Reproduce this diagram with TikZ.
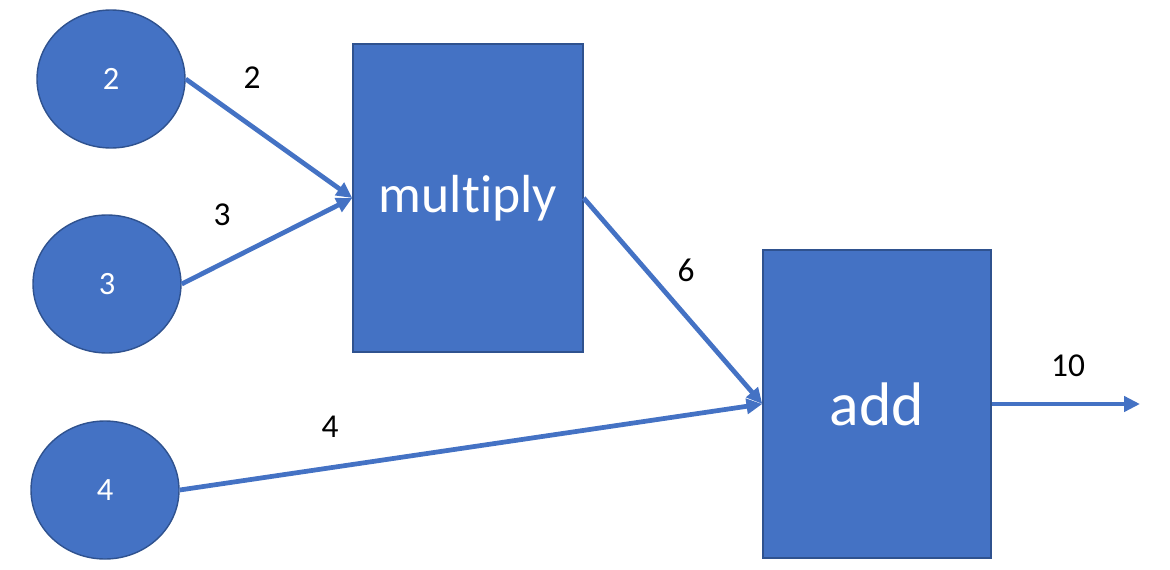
\documentclass[tikz,border=0pt]{standalone}
\usepackage{fontspec}
\setmainfont[Ligatures=NoCommon]{Carlito}
\usepackage{xcolor}
\usepackage{tikz}
\usetikzlibrary{shapes.geometric,arrows.meta}
\definecolor{opfill}{HTML}{4472C4}
\definecolor{opline}{HTML}{2F528F}

\begin{document}
\begin{tikzpicture}
\tikzset{
  val/.style={ellipse, draw=opline, fill=opfill, line width=0.8pt, minimum width=2.96cm, minimum height=2.76cm, inner sep=0pt, text=white, font=\fontsize{18.5}{21}\selectfont},
  opbox/.style={draw=opline, fill=opfill, line width=0.8pt, minimum width=4.6cm, minimum height=6.16cm, inner sep=0pt, text=white},
  flow/.style={draw=opfill, line width=2.7pt, -{Triangle[length=9pt,width=8.5pt]}},
  lbl/.style={font=\fontsize{19}{22}\selectfont, text=black},
}
\useasboundingbox (0,0) rectangle (23.4,-11.4);
\node[val] (two) at (2.22,-1.58) {2};
\node[val] (three) at (2.14,-5.68) {3};
\node[val] (four) at (2.10,-9.80) {4};
\node[opbox, font=\fontsize{30.5}{34}\selectfont] (mul) at (9.36,-3.96) {multiply};
\node[opbox, minimum width=4.56cm, font=\fontsize{35}{40}\selectfont] (add) at (17.54,-8.08) {add};
\coordinate (out) at (22.8,-8.08);
\draw[flow] (two.east) -- (mul.west);
\draw[flow] (three.east) -- (mul.west);
\draw[flow] (mul.east) -- (add.west);
\draw[flow] (four.east) -- (add.west);
\draw[flow] (add.east) -- (out);
\node[lbl] (ltwo) at (5.04,-1.56) {2};
\node[lbl] (lthree) at (4.44,-4.30) {3};
\node[lbl] (lsix) at (13.72,-5.40) {6};
\node[lbl] (lfour) at (6.60,-8.54) {4};
\node[lbl] (lten) at (21.36,-7.32) {10};
\end{tikzpicture}
\end{document}
